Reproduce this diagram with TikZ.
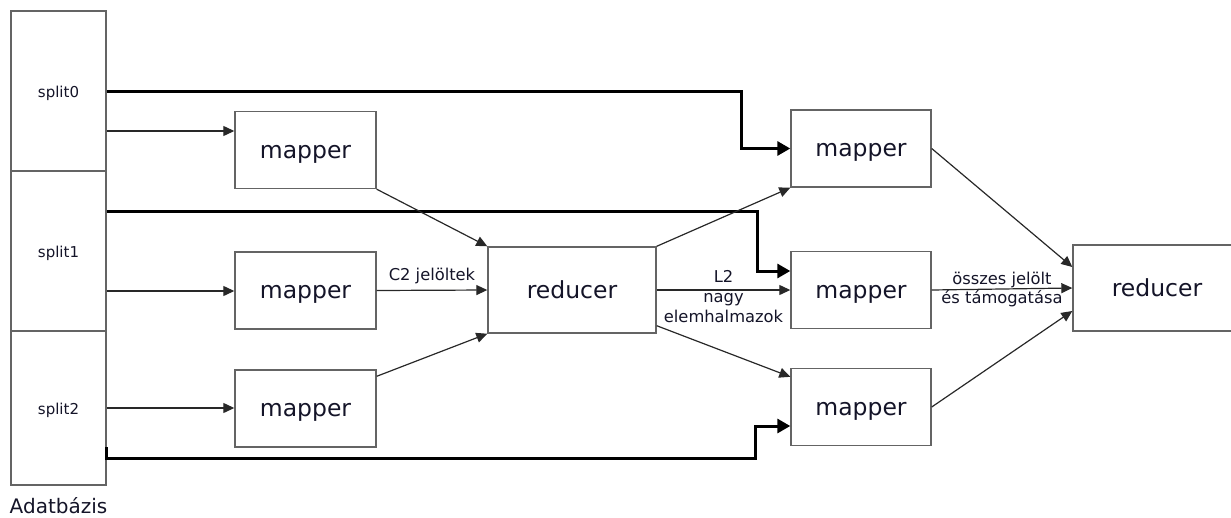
\documentclass[tikz,border=0pt]{standalone}
\usepackage{fontspec}
\setmainfont{DejaVu Sans}
\usepackage{xcolor}
\usetikzlibrary{arrows.meta,calc,positioning}
\definecolor{boxgray}{RGB}{100,100,100}
\definecolor{linegray}{RGB}{40,40,40}
\definecolor{txtdark}{RGB}{20,20,40}

\tikzset{
  box/.style={draw=boxgray, line width=1.4pt, inner sep=0pt, text=txtdark,
    text height=16.5pt, text depth=0pt, font=\fontsize{23.5}{28}\selectfont},
  mapbox/.style={box, minimum width=141pt, minimum height=77pt},
  redbox/.style={box, minimum width=168pt, minimum height=86pt},
  splitbox/.style={draw=boxgray, line width=1.2pt, inner sep=0pt, text=txtdark,
    text height=12pt, text depth=0pt, minimum width=95pt, font=\fontsize{15}{18}\selectfont},
  flow/.style={draw=linegray, line width=1.2pt, -{Triangle[length=11pt,width=10pt]}},
  feed/.style={draw=black, line width=3pt, -{Triangle[length=13pt,width=14pt]}},
  lbl/.style={text=txtdark, align=center, inner sep=1pt}
}

\begin{document}
\begin{tikzpicture}[x=1pt, y=-1pt, line join=miter]
  \path[use as bounding box] (0,0) rectangle (1231,517);
  \clip (0,0) rectangle (1231,517);

  % database with its three splits
  \node[splitbox, minimum height=160pt] (split0) at (58.5,91) {split0};
  \node[splitbox, minimum height=160pt] (split1) at (58.5,251) {split1};
  \node[splitbox, minimum height=154pt] (split2) at (58.5,408) {split2};
  \node[anchor=base, text=txtdark, font=\fontsize{20}{24}\selectfont]
    (dbname) at ([yshift=-28pt]split2.south) {Adatbázis};

  % first round
  \node[mapbox] (mapA) at (305.5,150) {mapper};
  \node[mapbox] (mapB) at (305.5,290.5) {mapper};
  \node[mapbox] (mapC) at (305.5,408.5) {mapper};
  \node[redbox] (redA) at (572,290) {reducer};

  % second round
  \node[mapbox, minimum width=140pt] (mapD) at (861,148.5) {mapper};
  \node[mapbox, minimum width=140pt] (mapE) at (861,290) {mapper};
  \node[mapbox, minimum width=140pt] (mapF) at (861,407) {mapper};
  \node[redbox] (redB) at (1157,288) {reducer};

  % splits to first mappers
  \draw[flow] ([yshift=-40pt]split0.east) -- ([yshift=19pt]mapA.west);
  \draw[flow] ([yshift=-40pt]split1.east) -- ([yshift=-40pt]split1.east -| mapB.west);
  \draw[flow] (split2.east) -- (split2.east -| mapC.west);

  % splits to second mappers
  \draw[feed] (split0.east) -- ++(635,0) |- (mapD.west);
  \draw[feed] ([yshift=40pt]split1.east) -- ++(651,0) |- ([yshift=19pt]mapE.west);
  \draw[feed] ([yshift=-39pt]split2.east) -- ++(0,11) -- ++(649,0) |- ([yshift=-19pt]mapF.west);

  % first mappers to reducer
  \draw[flow] (mapA.south east) -- (redA.north west);
  \draw[flow] (mapB.east) -- node[lbl, above=5pt, font=\fontsize{16.3}{20}\selectfont] {C2 jelöltek} (redA.west);
  \draw[flow] ([yshift=-7pt]mapC.north east) -- (redA.south west);

  % reducer to second mappers
  \draw[flow] (redA.north east) -- (mapD.south west);
  \draw[flow] (redA.east) -- node[lbl, yshift=-7pt, font=\fontsize{16.3}{20}\selectfont]
    {L2\\nagy\\elemhalmazok} (redA.east -| mapE.west);
  \draw[flow] ([yshift=8pt]redA.south east) -- ([yshift=-9pt]mapF.north west);

  % second mappers to final reducer
  \draw[flow] (mapD.east) -- ([yshift=21pt]redB.west);
  \draw[flow] (mapE.east) -- node[lbl, font=\fontsize{16.3}{19}\selectfont]
    {összes jelölt\\és támogatása} (redB.west);
  \draw[flow] (mapF.east) -- ([yshift=-23pt]redB.west);
\end{tikzpicture}
\end{document}
